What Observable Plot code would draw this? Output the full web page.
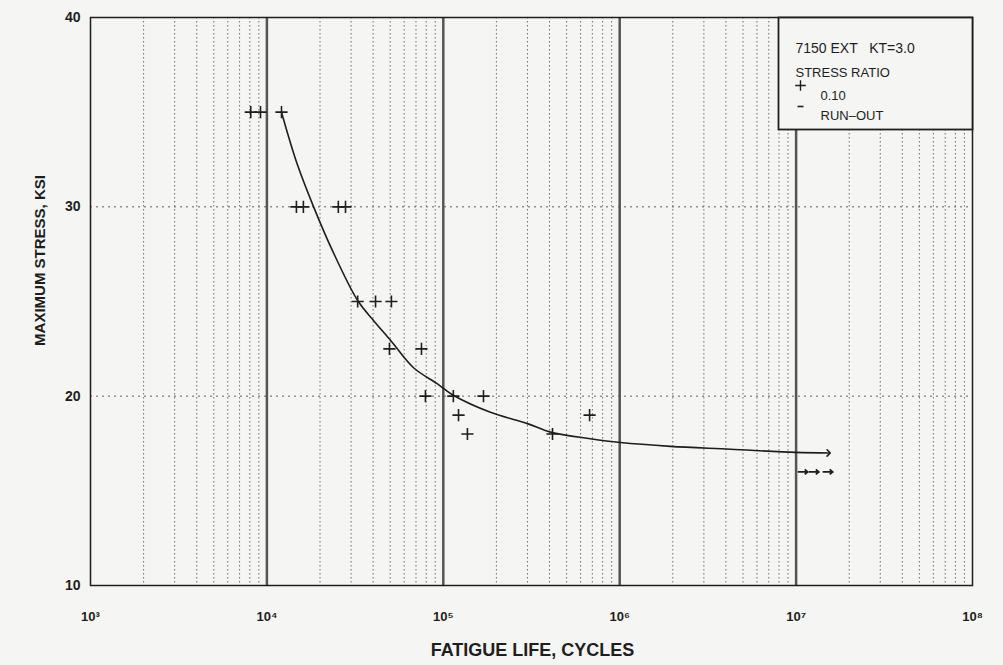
<!DOCTYPE html>
<html><head><meta charset="utf-8">
<script src="https://cdn.jsdelivr.net/npm/d3@7"></script>
<script src="https://cdn.jsdelivr.net/npm/@observablehq/plot@0.6"></script>
<style>
body{margin:0;background:#f5f5f3;}
</style></head><body><div id="chart"></div>
<script>
// Failure points (stress ratio 0.10)
const failCycles = [8100, 9200, 12100, 14700, 16100, 25400, 27900, 32700, 41300, 50800, 49500, 75200, 79200, 114000, 169000, 122000, 137000, 416000, 675000];
const failStress = [35, 35, 35, 30, 30, 30, 30, 25, 25, 25, 22.5, 22.5, 20, 20, 20, 19, 18, 18, 19];
// Run-outs
const runCycles = [10900000, 12600000, 15100000];
const runStress = [16, 16, 16];
// Fitted S-N curve
const curveCycles = [12100, 14800, 18400, 23500, 32700, 40200, 50200, 67800, 92700, 114000, 185000, 300000, 405000, 682000, 1010000, 1940000, 4250000, 9930000, 15300000];
const curveStress = [35, 32.3, 30, 27.7, 25.05, 24.0, 22.95, 21.5, 20.65, 20.05, 19.15, 18.55, 18.1, 17.75, 17.55, 17.35, 17.2, 17.03, 17.0];
// Axes
const decades = [1e3, 1e4, 1e5, 1e6, 1e7, 1e8];
const innerDecades = [1e4, 1e5, 1e6, 1e7];
const minorMultipliers = [2, 3, 4, 5, 6, 7, 8, 9];
const yTicks = [10, 20, 30, 40];
const yGrid = [20, 30];
const supers = {3: "³", 4: "⁴", 5: "⁵", 6: "⁶", 7: "⁷", 8: "⁸"};
const legendTitle = "7150 EXT   KT=3.0";
const legendSub = "STRESS RATIO";
const legendFail = "0.10";
const legendRun = "RUN–OUT";

const failures = failCycles.map((c, i) => ({cycles: c, stress: failStress[i]}));
const runouts = runCycles.map((c, i) => ({cycles: c, stress: runStress[i]}));
const curve = curveCycles.map((c, i) => ({cycles: c, stress: curveStress[i]}));
const minorLines = decades.slice(0, -1).flatMap(d => minorMultipliers.map(m => d * m));

const bg = "#f5f5f3";
const ink = "#1e1e1e";
const runoutSymbol = {
  draw(ctx) {
    ctx.moveTo(-5, 0); ctx.lineTo(5, 0);
    ctx.moveTo(2, -2.5); ctx.lineTo(5, 0); ctx.lineTo(2, 2.5);
  }
};
const dashSymbol = {draw(ctx) { ctx.moveTo(-3, 0); ctx.lineTo(3, 0); }};

const font = "'Liberation Sans Narrow','Liberation Sans',Arial,sans-serif";

const chart = Plot.plot({
  width: 1003, height: 665,
  marginLeft: 90, marginRight: 31, marginTop: 17, marginBottom: 80,
  style: {background: bg, fontFamily: font, fontSize: "12px", color: ink},
  x: {type: "log", domain: [1e3, 1e8], label: null},
  y: {domain: [10, 40], label: null},
  marks: [
    Plot.ruleX(minorLines, {stroke: "#707070", strokeDasharray: "1.5,2.5", strokeWidth: 1}),
    Plot.ruleY(yGrid, {stroke: "#606060", strokeDasharray: "2,4", strokeWidth: 1}),
    Plot.ruleX(innerDecades, {stroke: "#555", strokeWidth: 2.5}),
    Plot.frame({stroke: ink, strokeWidth: 1.5}),
    Plot.axisX(decades, {tickSize: 0, tickPadding: 26, label: null, fontWeight: "bold", fontSize: 13,
      tickFormat: d => "10" + supers[Math.round(Math.log10(d))]}),
    Plot.axisY(yTicks, {tickSize: 0, tickPadding: 10, label: null, fontWeight: "bold", fontSize: 14}),
    Plot.line(curve, {x: "cycles", y: "stress", curve: "catmull-rom", stroke: ink, strokeWidth: 1.6, markerEnd: "arrow"}),
    Plot.dot(failures, {x: "cycles", y: "stress", symbol: "plus", r: 4, stroke: ink, strokeWidth: 1.6}),
    Plot.dot(runouts, {x: "cycles", y: "stress", symbol: runoutSymbol, stroke: ink, strokeWidth: 1.8}),
    // Legend box
    Plot.frame({insetLeft: 688, insetBottom: 456, fill: bg, stroke: ink, strokeWidth: 1.8}),
    Plot.text([legendTitle], {frameAnchor: "top-left", dx: 705, dy: 26, textAnchor: "start", fontSize: 14, fill: ink}),
    Plot.text([legendSub], {frameAnchor: "top-left", dx: 705, dy: 50, textAnchor: "start", fontSize: 13, fill: ink}),
    Plot.dot([legendFail], {frameAnchor: "top-left", dx: 710, dy: 68, symbol: "plus", r: 3.5, stroke: ink, strokeWidth: 1.4}),
    Plot.text([legendFail], {frameAnchor: "top-left", dx: 730, dy: 73, textAnchor: "start", fontSize: 13, fill: ink}),
    Plot.dot([legendRun], {frameAnchor: "top-left", dx: 710, dy: 89, symbol: dashSymbol, stroke: ink, strokeWidth: 1.6}),
    Plot.text([legendRun], {frameAnchor: "top-left", dx: 730, dy: 93, textAnchor: "start", fontSize: 13, fill: ink}),
    // Axis titles
    Plot.text(["MAXIMUM STRESS, KSI"], {frameAnchor: "left", textAnchor: "middle", rotate: -90, dx: -50, dy: -41, fontSize: 15, fontWeight: "bold", fill: ink}),
    Plot.text(["FATIGUE LIFE, CYCLES"], {frameAnchor: "bottom", textAnchor: "middle", lineAnchor: "middle", dx: 1, dy: 65, fontSize: 18, fontWeight: "bold", fill: ink})
  ]
});
document.getElementById("chart").appendChild(chart);
</script></body></html>
